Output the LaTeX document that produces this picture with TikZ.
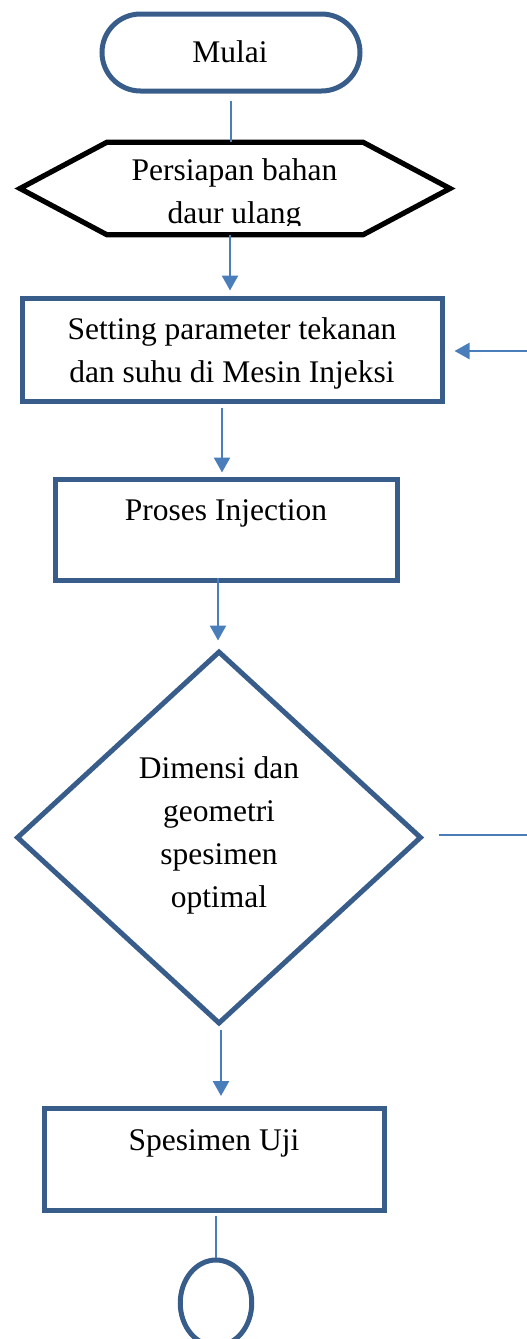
\documentclass[tikz,border=0pt]{standalone}
\usepackage{fontspec}
\setmainfont{Liberation Serif}
\usetikzlibrary{arrows.meta,shapes.geometric,calc}
\definecolor{boxblue}{HTML}{385D8A}
\definecolor{linkblue}{HTML}{4A7EBB}
\newcommand\flowfont{\fontsize{31.5}{43}\selectfont}
\tikzset{
  outline/.style={draw=boxblue, line width=5pt, line join=miter},
  procbox/.style={outline, rectangle, inner sep=0pt},
  conn/.style={draw=linkblue, line width=2.5pt},
  arr/.style={conn, -{Triangle[width=16pt,length=15pt]}},
  lbl/.style={font=\flowfont, inner sep=0pt, anchor=base, align=center, text=black},
}
\begin{document}
\begin{tikzpicture}[x=1pt,y=-1pt]
\useasboundingbox (0,0) rectangle (527,1339);

% start terminator
\node[outline, rectangle, rounded corners=38.5pt, minimum width=258pt, minimum height=77pt, inner sep=0pt]
  (start) at (231,52.5) {};
\node[lbl] (startlbl) at (230,62) {Mulai};

% preparation hexagon
\node[rectangle, inner sep=0pt, minimum width=256pt, minimum height=92pt] (prep) at (235,188.5) {};
\draw[black, line width=5.2pt, line join=miter]
  (prep.north west) -- (prep.north east) -- (450,188.5) -- (prep.south east)
  -- (prep.south west) -- (20,188.5) -- cycle;
\begin{scope}
  \clip (0,140) rectangle (527,225);
  \node[lbl] (preplbl) at (234.5,223) {Persiapan bahan\\daur ulang};
\end{scope}

% process boxes
\node[procbox, minimum width=420pt, minimum height=103pt] (setting) at (232.5,349.5) {};
\node[lbl] (settinglbl) at (232,382) {Setting parameter tekanan\\dan suhu di Mesin Injeksi};

\node[procbox, minimum width=342pt, minimum height=101pt] (inject) at (226.5,530) {};
\node[lbl] (injectlbl) at (226,520) {Proses Injection};

% decision
\node[outline, diamond, inner sep=0pt, minimum width=405pt, minimum height=373pt] (check) at (219,837.5) {};
\node[lbl] (checklbl) at (219,907) {Dimensi dan\\geometri\\spesimen\\optimal};

\node[procbox, minimum width=340pt, minimum height=102pt] (specimen) at (214.5,1159.5) {};
\node[lbl] (specimenlbl) at (214,1150) {Spesimen Uji};

% connector circle
\node[outline, ellipse, inner sep=0pt, minimum width=71.5pt, minimum height=86pt] (endc) at (216,1303) {};

% off-page ends of the feedback loop
\coordinate (loopin) at (527,351);
\coordinate (loopout) at (527,835);

% connectors
\draw[conn, shorten <=7pt] (start.south) -- (start.south |- prep.north);
\draw[arr, shorten >=5pt] ([xshift=-5pt]prep.south) -- ([xshift=-5pt]prep.south |- setting.north);
\draw[arr, shorten <=4pt, shorten >=4.5pt] ([xshift=-10.5pt]setting.south) -- ([xshift=-10.5pt]setting.south |- inject.north);
\draw[arr, shorten <=-5.5pt, shorten >=8pt] ([xshift=-8.5pt]inject.south) -- ([xshift=-8.5pt]inject.south |- check.north);
\draw[arr, shorten <=3pt, shorten >=10pt] ([xshift=2pt]check.south) -- ([xshift=2pt]check.south |- specimen.north);
\draw[conn, shorten <=2.5pt] ([xshift=1.5pt]specimen.south) -- ([xshift=1.5pt]specimen.south |- endc.north);
\draw[arr, shorten >=9.5pt] (loopin) -- (loopin -| setting.east);
\draw[conn, shorten <=15pt] (check.east |- loopout) -- (loopout);
\end{tikzpicture}
\end{document}
